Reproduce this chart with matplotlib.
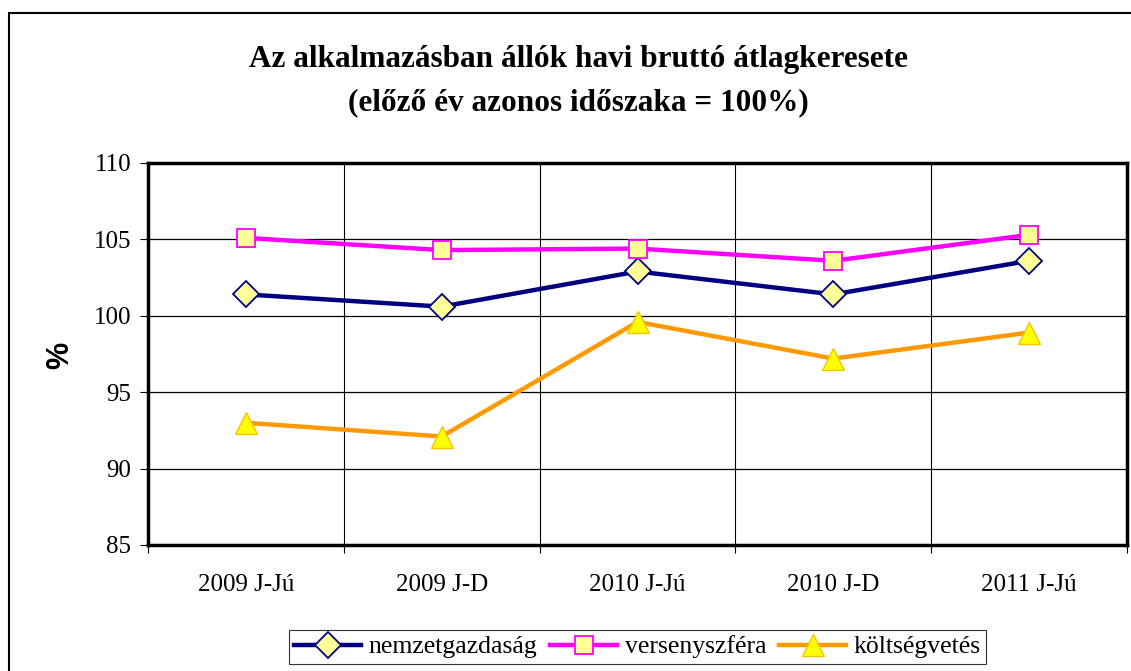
import matplotlib
matplotlib.use("Agg")
import matplotlib.pyplot as plt
from matplotlib.patches import Rectangle

categories = ["2009 J-Jú", "2009 J-D", "2010 J-Jú", "2010 J-D", "2011 J-Jú"]
nemzetgazdasag = [101.4, 100.6, 102.9, 101.4, 103.6]
versenyszfera = [105.1, 104.3, 104.4, 103.6, 105.3]
koltsegvetes = [93.0, 92.1, 99.6, 97.2, 98.9]
yticks = [85, 90, 95, 100, 105, 110]

W, H = 1131, 671
fig = plt.figure(figsize=(W / 100, H / 100), dpi=100)
serif = "Liberation Serif"

# outer chart frame
fig.patches.append(Rectangle((8.5 / W, 0 - 0.01), 1.2, (H - 13) / H + 0.01,
                             transform=fig.transFigure, fill=False,
                             edgecolor="black", linewidth=1.5))

ax = fig.add_axes([148 / W, 1 - 545 / H, (1127 - 148) / W, (545 - 163) / H])
x = list(range(len(categories)))

ax.plot(x, nemzetgazdasag, color="#000080", lw=3.2, marker="D", markersize=13,
        markerfacecolor="#FFFF99", markeredgecolor="#000080", markeredgewidth=1.3,
        label="nemzetgazdaság", zorder=5)
ax.plot(x, versenyszfera, color="#FF00FF", lw=3.2, marker="s", markersize=13,
        markerfacecolor="#FFFF99", markeredgecolor="#FF00FF", markeredgewidth=1.3,
        label="versenyszféra", zorder=5)
ax.plot(x, koltsegvetes, color="#FF9900", lw=3.2, marker="^", markersize=16,
        markerfacecolor="#FFFF00", markeredgecolor="#F5C400", markeredgewidth=1.0,
        label="költségvetés", zorder=5)

ax.set_xlim(-0.5, len(categories) - 0.5)
ax.set_ylim(85, 110)
ax.set_yticks(yticks)
ax.set_xticks(x)
ax.set_xticklabels(categories, fontfamily=serif, fontsize=18)
ax.set_xticks([i + 0.5 for i in range(-1, len(categories))], minor=True)
ax.tick_params(axis="x", which="major", length=0, pad=21)
ax.tick_params(axis="x", which="minor", length=6, width=0.8, direction="out")
ax.tick_params(axis="y", length=6, width=0.8, direction="out", pad=6, labelsize=18)
for lbl in ax.get_yticklabels():
    lbl.set_fontfamily(serif)

ax.grid(axis="y", color="black", lw=0.9)
for b in [i + 0.5 for i in range(len(categories) - 1)]:
    ax.axvline(b, color="black", lw=0.8, zorder=1)
ax.set_axisbelow(True)
for s in ax.spines.values():
    s.set_linewidth(2.5)
    s.set_color("black")

fig.text(60 / W, 1 - 355 / H, "%", rotation=90, fontfamily="Liberation Sans",
         fontweight="bold", fontsize=22, ha="center", va="center")

fig.text(578 / W, 1 - 60 / H, "Az alkalmazásban állók havi bruttó átlagkeresete",
         fontfamily=serif, fontweight="bold", fontsize=22.5, ha="center", va="center")
fig.text(578 / W, 1 - 103 / H, "(előző év azonos időszaka = 100%)",
         fontfamily=serif, fontweight="bold", fontsize=22.5, ha="center", va="center")

leg = fig.legend(loc="center", bbox_to_anchor=(637.5 / W, 1 - 647 / H), ncol=3,
                 frameon=True, fancybox=False, edgecolor="black",
                 prop={"family": serif, "size": 18.5}, handlelength=2.6,
                 columnspacing=0.5, handletextpad=0.3, borderpad=0.2,
                 borderaxespad=0)
leg.get_frame().set_linewidth(0.8)

fig.savefig("out.png", dpi=100)
